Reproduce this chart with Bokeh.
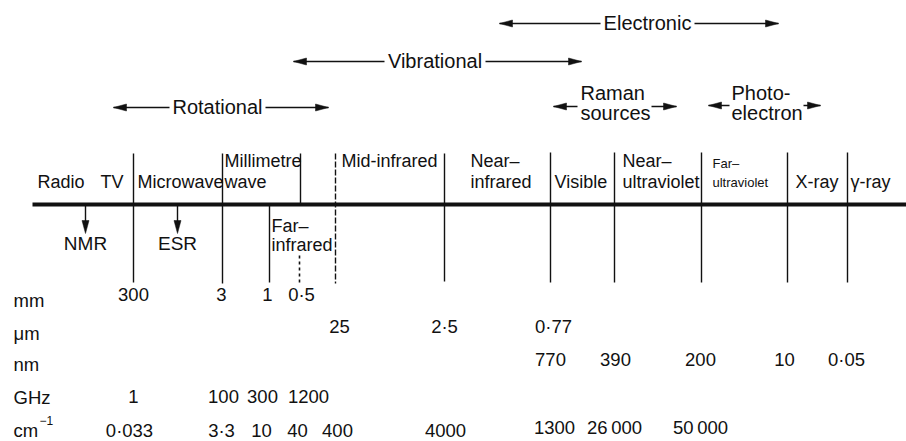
from bokeh.plotting import figure
from bokeh.models import Range1d, ColumnDataSource
from bokeh.embed import file_html
from bokeh.resources import INLINE
from bokeh.core.properties import value

FONT = value("Liberation Sans")

# ---------------- data ----------------
# spectral regions written above the main bar
region_labels = ["Radio", "TV", "Microwave", "Millimetre", "wave", "Mid-infrared",
                 "Near–", "infrared", "Visible", "Near–", "ultraviolet", "X-ray", "γ-ray"]
region_x = [37, 100, 137, 224, 224, 341, 470, 470, 554, 622, 622, 795, 850]
region_y = [188, 188, 188, 167, 188, 167, 167, 188, 188, 167, 188, 188, 188]

far_uv_labels = ["Far–", "ultraviolet"]
far_uv_x = [712, 712]
far_uv_y = [168, 187]

far_ir_labels = ["Far–", "infrared"]
far_ir_x = [271, 271]
far_ir_y = [232, 251]

# region boundaries
bound_x = [133, 222, 300, 269, 444, 550, 614, 701, 787, 847]
bound_top = [153, 153, 153, 204, 153, 152, 152, 152, 152, 152]
bound_bottom = [282, 283, 204, 282, 281, 282, 282, 282, 282, 282]
dash_bound_x = [335]
dash_bound_top = [153]
dash_bound_bottom = [283]
dot_bound_x = [299]
dot_bound_top = [255]
dot_bound_bottom = [283]

# transitions (double arrows with label)
trans_labels = ["Electronic", "Vibrational", "Rotational"]
trans_left = [499, 293, 113]
trans_right = [778, 581, 328]
trans_y = [23, 61, 107]
trans_gap_l = [600, 384, 169]
trans_gap_r = [694, 485, 265]

# sources (two-line labels with short arrows)
src_top = ["Raman", "Photo-"]
src_bottom = ["sources", "electron"]
src_x = [580, 731]
src_left_tip = [553, 708]
src_left_end = [577, 729]
src_right_start = [651, 803]
src_right_tip = [676, 820]
src_y = [106, 105]

# resonance methods
method_labels = ["NMR", "ESR"]
method_x = [85, 177]

# unit rows
unit_labels = ["mm", "μm", "nm", "GHz", "cm"]
unit_y = [307, 340, 371, 404, 437]

mm_vals = ["300", "3", "1", "0·5"]
mm_x = [133, 221, 267, 301]
um_vals = ["25", "2·5", "0·77"]
um_x = [339, 444, 553]
nm_vals = ["770", "390", "200", "10", "0·05"]
nm_x = [550, 615, 700, 784, 846]
ghz_vals = ["1", "100", "300", "1200"]
ghz_x = [133, 223, 262, 308]
cm_vals = ["0·033", "3·3", "10", "40", "400", "4000", "1300", "26\u2009000", "50\u2009000"]
cm_x = [129, 221, 261, 297, 337, 445, 554, 614, 700]
cm_y = [437, 437, 437, 437, 437, 437, 434, 434, 434]

# ---------------- figure ----------------
p = figure(width=906, height=441, x_range=Range1d(0, 906), y_range=Range1d(441, 0),
           output_backend="svg", toolbar_location=None, min_border=0)
p.xaxis.visible = False
p.yaxis.visible = False
p.xgrid.visible = False
p.ygrid.visible = False
p.outline_line_color = None
p.background_fill_color = "white"

INK = "#111111"

# main bar
p.segment(x0=[32], y0=[204], x1=[906], y1=[204], line_width=4, line_color=INK)

# boundaries
p.segment(x0=bound_x, y0=bound_top, x1=bound_x, y1=bound_bottom, line_width=1.4, line_color=INK)
p.segment(x0=dash_bound_x, y0=dash_bound_top, x1=dash_bound_x, y1=dash_bound_bottom,
          line_width=1.4, line_color=INK, line_dash="6 2")
p.segment(x0=dot_bound_x, y0=dot_bound_top, x1=dot_bound_x, y1=dot_bound_bottom,
          line_width=1.6, line_color=INK, line_dash="3 3")

def txt(xs, ys, labels, size, align="left"):
    src = ColumnDataSource(dict(x=xs, y=ys, t=labels))
    p.text(x="x", y="y", text="t", source=src, text_font=FONT, text_font_size="%gpx" % size,
           text_align=align, text_baseline="alphabetic", text_color=INK,
           y_offset=-round(0.38 * size))

HL, HW = 13, 3.5

def heads_h(tips_x, tips_y, dirs):
    xs, ys = [], []
    for tx, ty, d in zip(tips_x, tips_y, dirs):
        xs.append([tx, tx - d * HL, tx - d * HL])
        ys.append([ty, ty - HW, ty + HW])
    p.patches(xs=xs, ys=ys, fill_color=INK, line_color=INK, line_width=0.5)

# transitions
p.segment(x0=trans_left, y0=trans_y, x1=trans_gap_l, y1=trans_y, line_width=1.5, line_color=INK)
p.segment(x0=trans_gap_r, y0=trans_y, x1=trans_right, y1=trans_y, line_width=1.5, line_color=INK)
heads_h(trans_left, trans_y, [-1] * len(trans_left))
heads_h(trans_right, trans_y, [1] * len(trans_right))
txt([(a + b) / 2 for a, b in zip(trans_gap_l, trans_gap_r)], [y + 7 for y in trans_y],
    trans_labels, 20, "center")

# sources
p.segment(x0=src_left_tip, y0=src_y, x1=src_left_end, y1=src_y, line_width=1.5, line_color=INK)
p.segment(x0=src_right_start, y0=src_y, x1=src_right_tip, y1=src_y, line_width=1.5, line_color=INK)
heads_h(src_left_tip, src_y, [-1, -1])
heads_h(src_right_tip, src_y, [1, 1])
txt(src_x, [100, 100], src_top, 20)
txt(src_x, [120, 120], src_bottom, 20)

# region labels
txt(region_x, region_y, region_labels, 18)
txt(far_uv_x, far_uv_y, far_uv_labels, 13)
txt(far_ir_x, far_ir_y, far_ir_labels, 18)

# NMR / ESR arrows
p.segment(x0=method_x, y0=[204] * 2, x1=method_x, y1=[226] * 2, line_width=1.4, line_color=INK)
p.patches(xs=[[x - HW, x, x + HW] for x in method_x],
          ys=[[220, 233, 220] for _ in method_x], fill_color=INK, line_color=INK, line_width=0.5)
txt(method_x, [250, 250], method_labels, 19, "center")

# unit rows
txt([13] * len(unit_labels), unit_y, unit_labels, 18.5)
txt([39], [425], ["−1"], 12)
txt(mm_x, [301] * len(mm_x), mm_vals, 18.5, "center")
txt(um_x, [333] * len(um_x), um_vals, 18.5, "center")
txt(nm_x, [366] * len(nm_x), nm_vals, 18.5, "center")
txt(ghz_x, [403] * len(ghz_x), ghz_vals, 18.5, "center")
txt(cm_x, cm_y, cm_vals, 18.5, "center")

open("out.html", "w").write(file_html(p, INLINE))
